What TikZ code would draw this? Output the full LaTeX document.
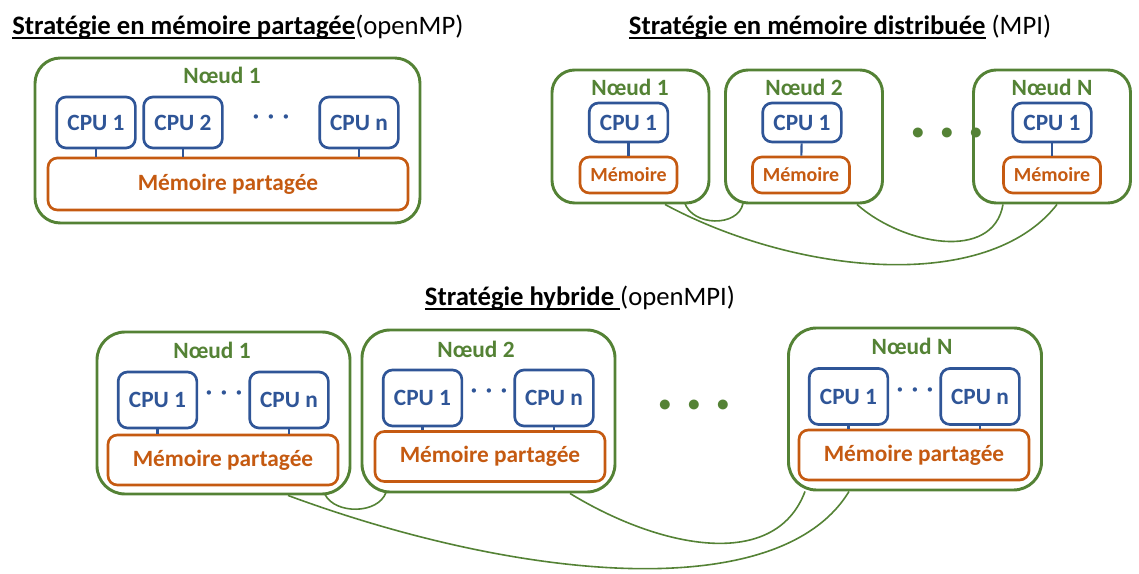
\documentclass[tikz,border=0pt]{standalone}
\usepackage{fontspec}
\setmainfont{Carlito}
\usetikzlibrary{calc}
\definecolor{vert}{RGB}{84,130,53}
\definecolor{bleu}{RGB}{47,85,151}
\definecolor{orng}{RGB}{197,90,17}
\newcommand{\souligne}[1]{\setbox0\hbox{#1}\rlap{\rule[-3.2pt]{\wd0}{1.1pt}}\box0\relax}
\tikzset{
  noeud/.style = {draw=vert, line width=2.2pt, inner sep=0pt,
    rounded corners=17pt},% green node box
  cpu/.style = {draw=bleu, text=bleu, line width=2pt, inner sep=0pt,
    rounded corners=7pt, font=\fontsize{17.5}{20}\selectfont\bfseries,
    minimum width=59pt},
  mem/.style = {draw=orng, text=orng, line width=2pt, inner sep=0pt,
    rounded corners=7pt, font=\fontsize{17.5}{20}\selectfont\bfseries},
  lbl/.style = {text=vert, inner sep=0pt, font=\fontsize{17.5}{20}\selectfont\bfseries},
  pts/.style = {text=bleu, inner sep=0pt, font=\fontsize{17.5}{20}\selectfont\bfseries},
  titre/.style = {inner sep=0pt, font=\fontsize{20}{24}\selectfont},
  tige/.style = {draw=bleu, line width=1.6pt},
  lien/.style = {draw=vert, line width=1.2pt}
}
\begin{document}
\begin{tikzpicture}[x=0.75pt,y=0.75pt]
\useasboundingbox (0,0) rectangle (1139,574);

% memoire partagee
\node [titre, anchor=west] (t1) at (12,547) {\souligne{\textbf{Stratégie en mémoire partagée}}(openMP)};
\node [noeud, minimum width=288.75pt, minimum height=123.75pt, rounded corners=19pt] (s) at (227.5,433.5) {};
\node [lbl] (sl) at (222,499) {Nœud 1};
\node [cpu, minimum height=38.25pt] (s1) at (96,451.5) {CPU 1};
\node [cpu, minimum height=38.25pt] (s2) at (183,451.5) {CPU 2};
\node [cpu, minimum height=38.25pt] (sn) at (359,451.5) {CPU n};
\node [pts] (sp) at (271,455) {·\hspace{6.5pt}·\hspace{6.5pt}·};
\node [mem, minimum width=270pt, minimum height=39pt] (sm) at (228,390) {Mémoire partagée};
\draw [tige] (s1.south) -- (s1.south |- sm.north);
\draw [tige] (s2.south) -- (s2.south |- sm.north);
\draw [tige] (sn.south) -- (sn.south |- sm.north);

% memoire distribuee
\node [titre] (t2) at (840,547) {\souligne{\textbf{Stratégie en mémoire distribuée}} (MPI)};
\node [noeud, minimum width=117.75pt, minimum height=99.75pt] (d1) at (630.5,437.5) {};
\node [noeud, minimum width=117.75pt, minimum height=99.75pt] (d2) at (804,437.5) {};
\node [noeud, minimum width=117.75pt, minimum height=99.75pt] (dN) at (1052,437.5) {};
\node [lbl] (d1l) at (630,487) {Nœud 1};
\node [lbl] (d2l) at (804,487) {Nœud 2};
\node [lbl] (dNl) at (1052,487) {Nœud N};
\node [cpu, minimum height=29.25pt] (d1c) at (628.5,451.5) {CPU 1};
\node [cpu, minimum height=29.25pt] (d2c) at (802,451.5) {CPU 1};
\node [cpu, minimum height=29.25pt] (dNc) at (1052,451.5) {CPU 1};
\node [mem, minimum width=72.75pt, minimum height=27pt, font=\fontsize{15}{18}\selectfont\bfseries] (d1m) at (628.5,399) {Mémoire};
\node [mem, minimum width=72.75pt, minimum height=27pt, font=\fontsize{15}{18}\selectfont\bfseries] (d2m) at (801,399) {Mémoire};
\node [mem, minimum width=72.75pt, minimum height=27pt, font=\fontsize{15}{18}\selectfont\bfseries] (dNm) at (1052,399) {Mémoire};
\draw [tige] (d1c) -- (d1m);
\draw [tige] (d2c) -- (d2m);
\draw [tige] (dNc) -- (dNm);
\node [pts, text=vert] (dp) at (947,440) {•\hspace{13pt}•\hspace{13pt}•};
\draw [lien] ($(d1.south)+(34.5,0)$) .. controls +(130,-70) and +(-70,-90) .. ($(dN.south)+(5,0)$);
\draw [lien] ($(d1.south)+(54,2)$) .. controls +(8,-24) and +(-5,-24) .. ($(d2.south)+(-61,1)$);
\draw [lien] ($(d2.south)+(53,0)$) .. controls +(45,-40) and +(-10,-58) .. ($(dN.south)+(-49,0)$);

% strategie hybride
\node [titre] (t3) at (580,276) {\souligne{\textbf{Stratégie hybride }}(openMPI)};
\node [noeud, minimum width=189.75pt, minimum height=121.5pt, rounded corners=21pt] (h1) at (223.5,161) {};
\node [noeud, minimum width=189.75pt, minimum height=121.5pt, rounded corners=21pt] (h2) at (488.5,163) {};
\node [noeud, minimum width=189.75pt, minimum height=121.5pt, rounded corners=21pt] (hN) at (915,165) {};
\node [lbl] (h1l) at (212,224) {Nœud 1};
\node [lbl] (h2l) at (476,225) {Nœud 2};
\node [lbl] (hNl) at (912,228) {Nœud N};
\node [cpu, minimum height=42pt] (h1a) at (157.5,174) {CPU 1};
\node [cpu, minimum height=42pt] (h1b) at (289,174) {CPU n};
\node [cpu, minimum height=42pt] (h2a) at (422.5,176) {CPU 1};
\node [cpu, minimum height=42pt] (h2b) at (554,176) {CPU n};
\node [cpu, minimum height=42pt] (hNa) at (848.5,177.5) {CPU 1};
\node [cpu, minimum height=42pt] (hNb) at (980,177.5) {CPU n};
\node [pts] (h1p) at (224,179) {·\hspace{6.5pt}·\hspace{6.5pt}·};
\node [pts] (h2p) at (489,181) {·\hspace{6.5pt}·\hspace{6.5pt}·};
\node [pts] (hNp) at (915,182) {·\hspace{6.5pt}·\hspace{6.5pt}·};
\node [mem, minimum width=172.5pt, minimum height=37.5pt] (h1m) at (223,114) {Mémoire partagée};
\node [mem, minimum width=172.5pt, minimum height=37.5pt] (h2m) at (490,117.5) {Mémoire partagée};
\node [mem, minimum width=172.5pt, minimum height=37.5pt] (hNm) at (914,119) {Mémoire partagée};
\draw [tige] (h1a.south) -- (h1a.south |- h1m.north);
\draw [tige] (h1b.south) -- (h1b.south |- h1m.north);
\draw [tige] (h2a.south) -- (h2a.south |- h2m.north);
\draw [tige] (h2b.south) -- (h2b.south |- h2m.north);
\draw [tige] (hNa.south) -- (hNa.south |- hNm.north);
\draw [tige] (hNb.south) -- (hNb.south |- hNm.north);
\node [pts, text=vert] (hp) at (694,168) {•\hspace{13pt}•\hspace{13pt}•};
\draw [lien] ($(h1.south)+(64.5,0)$) .. controls +(230,-85) and +(-70,-115) .. ($(hN.south)+(-66,0)$);
\draw [lien] ($(h1.south)+(101.5,1)$) .. controls +(10,-20) and +(-8,-22) .. ($(h2.south)+(-102.5,1)$);
\draw [lien] ($(h2.south)+(81.5,0)$) .. controls +(90,-55) and +(-30,-80) .. ($(hN.south)+(-110,0)$);
\end{tikzpicture}
\end{document}
